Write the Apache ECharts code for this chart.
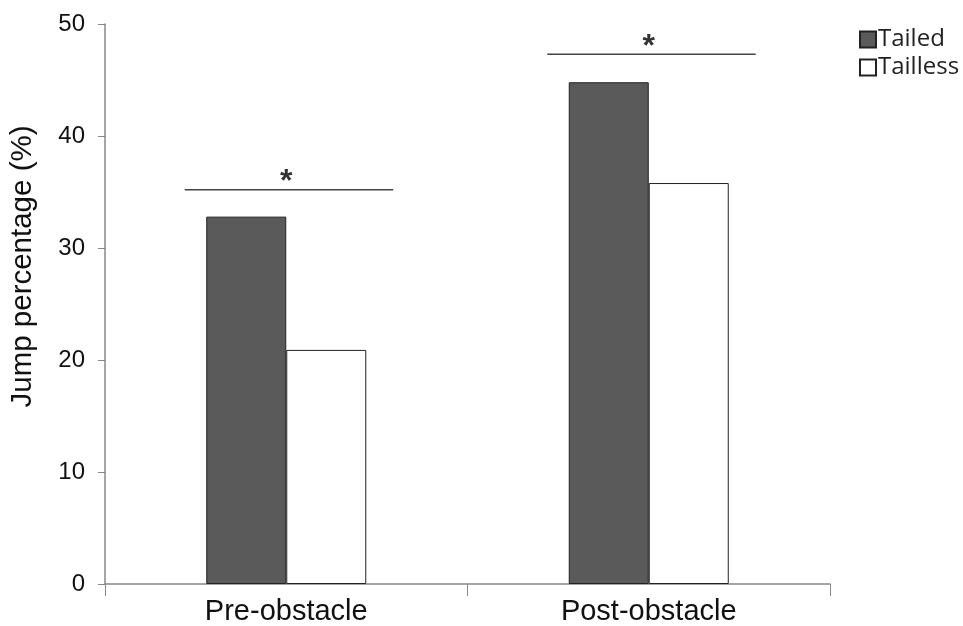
<!DOCTYPE html>
<html><head><meta charset="utf-8">
<script src="https://cdn.jsdelivr.net/npm/echarts@6/dist/echarts.min.js"></script>
<style>html,body{margin:0;padding:0;background:#fff}#c{width:963px;height:626px}</style>
</head><body><div id="c"></div>
<script>
const categories = ['Pre-obstacle', 'Post-obstacle'];
const tailed = [32.8, 44.8];
const tailless = [20.9, 35.8];
const yTicks = [0, 10, 20, 30, 40, 50];
const sigLines = [[[0.22, 35.2], [0.795, 35.2]], [[1.22, 47.3], [1.795, 47.3]]];
const sigStars = [[0.5, 36.4], [1.5, 48.5]];

const chart = echarts.init(document.getElementById('c'), null, {renderer: 'canvas'});
const font = 'Liberation Sans, Arial, sans-serif';
const sigSeries = sigLines.map(seg => ({
  type: 'line', xAxisIndex: 1, data: seg, symbol: 'none', silent: true,
  lineStyle: {color: '#444', width: 1.5}, animation: false
}));
chart.setOption({
  animation: false,
  grid: {left: 105, right: 133, top: 24, bottom: 41},
  legend: {
    orient: 'vertical', left: 854, top: 22, itemGap: 3, itemWidth: 16, itemHeight: 16,
    icon: 'rect',
    textStyle: {fontFamily: 'Open Sans, DejaVu Sans, sans-serif', fontSize: 24, lineHeight: 25, color: '#222', padding: [0,0,0,-3]},
    data: ['Tailed', 'Tailless']
  },
  xAxis: [{
    type: 'category', data: categories,
    axisLine: {lineStyle: {color: '#888', width: 1.5}},
    axisTick: {show: true, length: 12, lineStyle: {color: '#888'}, inside: false},
    axisLabel: {fontFamily: font, fontSize: 29, color: '#111', margin: 13}
  }, {
    type: 'value', min: 0, max: 2, show: false
  }],
  yAxis: {
    type: 'value', min: 0, max: 50, interval: 10,
    name: 'Jump percentage (%)', nameLocation: 'middle', nameGap: 67,
    nameTextStyle: {fontFamily: font, fontSize: 29.5, color: '#111', padding: [0, 0, 0, 75]},
    axisLine: {show: true, lineStyle: {color: '#888', width: 1.5}},
    axisTick: {show: true, length: 7, lineStyle: {color: '#888'}},
    splitLine: {show: false},
    axisLabel: {fontFamily: font, fontSize: 24, color: '#111', margin: 20,
      formatter: v => yTicks.includes(v) ? String(v) : ''}
  },
  series: [
    {name: 'Tailed', type: 'bar', data: tailed, barWidth: 80, barGap: '0%',
     itemStyle: {color: '#5a5a5a', borderColor: '#222', borderWidth: 1}},
    {name: 'Tailless', type: 'bar', data: tailless, barWidth: 80,
     itemStyle: {color: '#ffffff', borderColor: '#222', borderWidth: 1}},
    ...sigSeries,
    {type: 'scatter', xAxisIndex: 1, data: sigStars, symbolSize: 0, silent: true,
     label: {show: true, position: 'inside', formatter: '*', fontFamily: font, fontSize: 32, fontWeight: 'bold', color: '#000', offset: [0, 6]}}
  ]
});
</script></body></html>
